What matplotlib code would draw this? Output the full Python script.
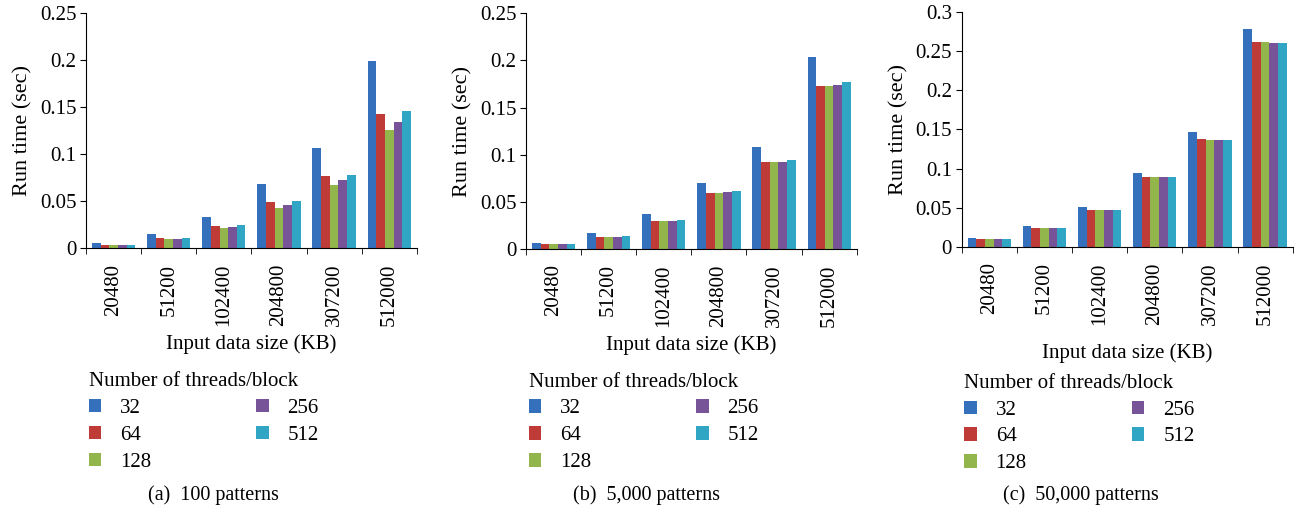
import matplotlib.pyplot as plt
import numpy as np

plt.rcParams['font.family'] = ['Liberation Serif', 'DejaVu Serif']

sizes = ['20480', '51200', '102400', '204800', '307200', '512000']
threads = ['32', '64', '128', '256', '512']
colors = ['#3570bd', '#be3b38', '#92b54c', '#765497', '#31a6c4']

# run time (sec), one list per threads/block value
a_vals = [[0.0053, 0.0152, 0.0333, 0.0684, 0.1067, 0.1993],
          [0.0032, 0.0110, 0.0237, 0.0493, 0.0769, 0.1429],
          [0.0032, 0.0099, 0.0216, 0.0429, 0.0673, 0.1259],
          [0.0032, 0.0099, 0.0227, 0.0460, 0.0727, 0.1344],
          [0.0032, 0.0110, 0.0248, 0.0503, 0.0780, 0.1460]]
b_vals = [[0.0067, 0.0163, 0.0365, 0.0695, 0.1078, 0.2040],
          [0.0056, 0.0130, 0.0300, 0.0588, 0.0918, 0.1730],
          [0.0056, 0.0130, 0.0300, 0.0588, 0.0918, 0.1730],
          [0.0056, 0.0130, 0.0300, 0.0600, 0.0918, 0.1740],
          [0.0056, 0.0141, 0.0310, 0.0610, 0.0940, 0.1770]]
c_vals = [[0.0115, 0.0268, 0.0510, 0.0944, 0.1466, 0.2780],
          [0.0102, 0.0242, 0.0472, 0.0893, 0.1377, 0.2614],
          [0.0102, 0.0242, 0.0472, 0.0893, 0.1364, 0.2614],
          [0.0102, 0.0242, 0.0472, 0.0893, 0.1364, 0.2601],
          [0.0102, 0.0242, 0.0472, 0.0893, 0.1364, 0.2601]]

# data, axes rect, ymax, xlabel pad, legend y, caption, caption x
panels = [
    (a_vals, [0.0662, 0.514, 0.2544, 0.460], 0.25, 6, -0.525, '(a)  100 patterns', 0.164),
    (b_vals, [0.4046, 0.513, 0.2544, 0.461], 0.25, 6, -0.525, '(b)  5,000 patterns', 0.497),
    (c_vals, [0.7398, 0.5166, 0.2546, 0.4605], 0.3, 13, -0.538, '(c)  50,000 patterns', 0.8315),
]

fig = plt.figure(figsize=(13, 5.11), dpi=100)
x = np.arange(len(sizes))
w = 0.157
fs = 15

for vals, rect, ymax, xpad, ly, caption, cx in panels:
    ax = fig.add_axes(rect)
    for i, t in enumerate(threads):
        ax.bar(x + (i - 2) * w, vals[i], w, color=colors[i], label=t)
    ax.set_xlim(-0.5, len(sizes) - 0.5)
    ax.set_ylim(0, ymax)
    yt = np.arange(0, ymax + 1e-9, 0.05)
    ax.set_yticks(yt)
    ax.set_yticklabels(['0'] + ['%g' % v for v in yt[1:]], fontsize=fs)
    ax.set_xticks(x)
    ax.set_xticklabels(sizes, rotation=90, fontsize=fs)
    ax.tick_params(axis='x', length=0, pad=11)
    ax.set_xticks(np.arange(-0.5, len(sizes)), minor=True)
    ax.tick_params(axis='x', which='minor', length=4, direction='out')
    ax.tick_params(axis='y', length=4, direction='out', pad=3)
    ax.spines['top'].set_visible(False)
    ax.spines['right'].set_visible(False)
    ax.set_ylabel('Run time (sec)', fontsize=16, labelpad=5)
    ax.set_xlabel('Input data size (KB)', fontsize=fs, labelpad=xpad)
    ax.legend(loc='upper left', bbox_to_anchor=(0.008, ly), ncol=2,
              title='Number of threads/block', title_fontsize=fs, fontsize=fs,
              frameon=False, alignment='left', handlelength=0.6, handleheight=0.6,
              handletextpad=0.9, columnspacing=5.05, labelspacing=0.38,
              borderaxespad=0, borderpad=0)
    fig.text(cx, 0.031, caption, fontsize=14.5, ha='center', va='center')

plt.savefig('out.png')
